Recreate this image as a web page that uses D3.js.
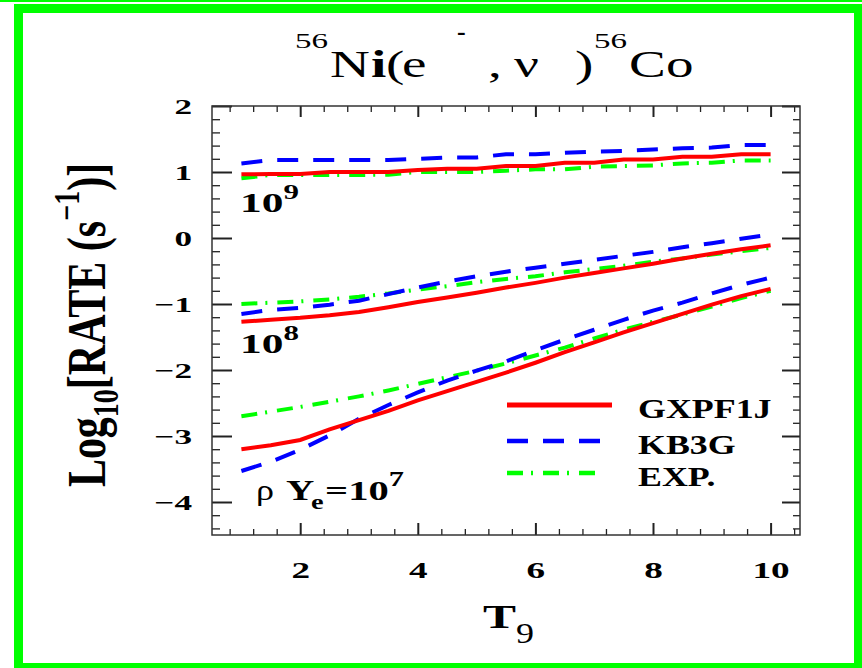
<!DOCTYPE html>
<html><head><meta charset="utf-8">
<script src="https://cdn.jsdelivr.net/npm/d3@7"></script>
<style>
body{margin:0;background:#fff;}
svg{display:block;}
</style>
</head><body>
<svg id="c" width="862" height="668"></svg>
<script>
// ---- data (log10 rate vs T9) ----
const T9 = [1.0,1.5,2.0,2.5,3.0,3.5,4.0,4.5,5.0,5.5,6.0,6.5,7.0,7.5,8.0,8.5,9.0,9.5,10.0];

const GXPF1J_1e9 = [0.965,0.97,0.97,1.00,1.00,1.00,1.03,1.05,1.05,1.09,1.09,1.14,1.14,1.19,1.19,1.23,1.23,1.27,1.27];
const KB3G_1e9   = [1.13,1.18,1.18,1.18,1.18,1.18,1.20,1.22,1.22,1.27,1.27,1.29,1.31,1.32,1.34,1.36,1.37,1.41,1.41];
const EXP_1e9    = [0.905,0.955,0.955,0.955,0.955,0.96,1.00,1.00,1.00,1.02,1.04,1.04,1.08,1.09,1.10,1.13,1.14,1.175,1.175];

const GXPF1J_1e8 = [-1.27,-1.24,-1.21,-1.17,-1.12,-1.05,-0.97,-0.90,-0.83,-0.75,-0.68,-0.60,-0.53,-0.46,-0.39,-0.31,-0.24,-0.17,-0.11];
const KB3G_1e8   = [-1.15,-1.09,-1.06,-1.01,-0.95,-0.85,-0.75,-0.66,-0.58,-0.51,-0.45,-0.39,-0.33,-0.27,-0.21,-0.14,-0.08,-0.01,0.05];
const EXP_1e8    = [-1.00,-0.98,-0.96,-0.93,-0.89,-0.84,-0.78,-0.73,-0.67,-0.62,-0.58,-0.52,-0.47,-0.42,-0.36,-0.31,-0.25,-0.20,-0.15];

const GXPF1J_1e7 = [-3.20,-3.14,-3.06,-2.90,-2.76,-2.62,-2.46,-2.32,-2.18,-2.04,-1.89,-1.73,-1.58,-1.43,-1.29,-1.15,-1.01,-0.88,-0.77];
const KB3G_1e7   = [-3.53,-3.39,-3.21,-2.99,-2.74,-2.53,-2.34,-2.16,-2.01,-1.87,-1.70,-1.54,-1.39,-1.24,-1.10,-0.98,-0.84,-0.71,-0.60];
const EXP_1e7    = [-2.70,-2.63,-2.56,-2.48,-2.40,-2.31,-2.21,-2.11,-2.01,-1.90,-1.78,-1.66,-1.52,-1.39,-1.27,-1.16,-1.04,-0.91,-0.80];

const xTicks = [2,4,6,8,10];
const yTicks = [2,1,0,-1,-2,-3,-4];
const xMinor = [0.8,1.2,1.6,2.4,2.8,3.2,3.6,4.4,4.8,5.2,5.6,6.4,6.8,7.2,7.6,8.4,8.8,9.2,9.6,10.4];
const yMinor = d3.range(-4.4, 2.0, 0.2).map(v => +v.toFixed(1)).filter(v => Math.abs(v - Math.round(v)) > 0.01);
const legendNames = ["GXPF1J","KB3G","EXP."];

// ---- styles ----
const RED = "#ff0000", BLUE = "#0000ff", GREEN = "#00ff00";
const SERIF = '"Liberation Serif"';
const styles = {
  GXPF1J: {color: RED, dash: null, w: 4},
  KB3G:   {color: BLUE, dash: "21,15", w: 4},
  EXP:    {color: GREEN, dash: "16,8,2,10", w: 4}
};

const svg = d3.select("#c");

// green border
svg.append("rect").attr("x",0).attr("y",0).attr("width",862).attr("height",2).attr("fill",GREEN);
svg.append("rect").attr("x",18.5).attr("y",8.5).attr("width",840).attr("height",659)
  .attr("fill","none").attr("stroke",GREEN).attr("stroke-width",9);

const L = 212, R = 800, TOP = 106, BOT = 535;
const x = d3.scaleLinear().domain([0.5,10.5]).range([L,R]);
const y = d3.scaleLinear().domain([-4.5,2]).range([BOT,TOP]);

function styleAxis(g, w){
  g.attr("font-family", SERIF);
  g.select(".domain").remove();
  g.selectAll(".tick line").attr("stroke","#222").attr("stroke-width",w);
}
// bottom
svg.append("g").attr("transform",`translate(0,${BOT})`)
  .call(d3.axisBottom(x).tickValues(xMinor).tickSize(-6).tickFormat(""))
  .call(g=>styleAxis(g,1.3));
const xb = svg.append("g").attr("transform",`translate(0,${BOT})`)
  .call(d3.axisBottom(x).tickValues(xTicks).tickSizeInner(-12).tickSizeOuter(0).tickPadding(26).tickFormat(d3.format("d")))
  .call(g=>styleAxis(g,2));
xb.selectAll(".tick text").attr("font-family",SERIF).attr("font-size",24).attr("font-weight","bold")
  .attr("fill","#000").attr("dy",null).attr("y",43).attr("transform","scale(1.55,1)");
// top
svg.append("g").attr("transform",`translate(0,${TOP})`)
  .call(d3.axisTop(x).tickValues(xMinor).tickSize(-6).tickFormat(""))
  .call(g=>styleAxis(g,1.3));
svg.append("g").attr("transform",`translate(0,${TOP})`)
  .call(d3.axisTop(x).tickValues(xTicks).tickSize(-11).tickFormat(""))
  .call(g=>styleAxis(g,2));
// left
svg.append("g").attr("transform",`translate(${L},0)`)
  .call(d3.axisLeft(y).tickValues(yMinor).tickSize(-8).tickFormat(""))
  .call(g=>styleAxis(g,1.3));
const yl = svg.append("g").attr("transform",`translate(${L},0)`)
  .call(d3.axisLeft(y).tickValues(yTicks).tickSizeInner(-20).tickSizeOuter(0).tickFormat(d => d < 0 ? "\u2212" + Math.abs(d) : d))
  .call(g=>styleAxis(g,2));
yl.selectAll(".tick text").attr("font-family",SERIF).attr("font-size",22).attr("font-weight","bold")
  .attr("fill","#000").attr("x",0).attr("dy","0.34em").attr("text-anchor","end")
  .attr("transform","translate(-20,0) scale(1.6,1)");
// right
svg.append("g").attr("transform",`translate(${R},0)`)
  .call(d3.axisRight(y).tickValues(yMinor).tickSize(-7).tickFormat(""))
  .call(g=>styleAxis(g,1.3));
svg.append("g").attr("transform",`translate(${R},0)`)
  .call(d3.axisRight(y).tickValues(yTicks).tickSize(-18).tickFormat(""))
  .call(g=>styleAxis(g,2));

// frame
svg.append("rect").attr("x",L).attr("y",TOP).attr("width",R-L).attr("height",BOT-TOP)
  .attr("fill","none").attr("stroke","#333").attr("stroke-width",1.5);

// series
const line = d3.line().x(d=>x(d[0])).y(d=>y(d[1]));
const series = [
  ["EXP", EXP_1e9], ["KB3G", KB3G_1e9], ["GXPF1J", GXPF1J_1e9],
  ["EXP", EXP_1e8], ["KB3G", KB3G_1e8], ["GXPF1J", GXPF1J_1e8],
  ["EXP", EXP_1e7], ["KB3G", KB3G_1e7], ["GXPF1J", GXPF1J_1e7]
];
series.forEach(([name, vals]) => {
  const s = styles[name];
  svg.append("path").datum(T9.map((t,i)=>[t, vals[i]]))
    .attr("d", line).attr("fill","none").attr("stroke", s.color)
    .attr("stroke-width", s.w).attr("stroke-dasharray", s.dash);
});

// text helper with horizontal stretch
function txt(px, py, s, size, weight, sx, anchor){
  const g = svg.append("g").attr("transform",`translate(${px},${py}) scale(${sx},1)`);
  const t = g.append("text").attr("font-family",SERIF).attr("font-size",size).attr("font-weight",weight||"normal")
    .attr("fill","#000").attr("text-anchor",anchor||"start").text(s);
  return t;
}

// title
txt(295,48,"56",22,"normal",1.5);
txt(330,77,"N",38,"normal",1.45);
txt(371,77,"i",38,"bold",1.45);
txt(386,77,"(",38,"normal",1.45);
txt(402,77,"e",38,"normal",1.45);
txt(457,40,"-",26,"bold",1.0);
txt(488,77,",",38,"normal",1.45);
txt(514,77,"\u03bd",38,"normal",1.45);
txt(575,77,")",38,"normal",1.45);
txt(594,48,"56",22,"normal",1.5);
txt(629,77,"C",38,"normal",1.45);
txt(666,77,"o",38,"normal",1.45);

// y-axis label
{
  const g = svg.append("g").attr("transform","translate(105,325) scale(1.3,1) rotate(-90)");
  const t = g.append("text").attr("font-family",SERIF).attr("font-size",42).attr("font-weight","bold")
    .attr("fill","#000").attr("text-anchor","middle");
  t.append("tspan").text("Log");
  t.append("tspan").attr("font-size",28).attr("dy",10).text("10");
  t.append("tspan").attr("dy",-10).text("[RATE (s");
  t.append("tspan").attr("font-size",28).attr("dy",-20).text("\u22121");
  t.append("tspan").attr("dy",20).text(")]");
}

// x-axis label
txt(483,628,"T",33,"bold",1.5);
txt(516,643,"9",30,"normal",1.2);

// density annotations
{
  let t = txt(240,212,"10",28,"bold",1.55);
  t.append("tspan").attr("font-size",20).attr("dy",-13).text("9");
  t = txt(240,353,"10",28,"bold",1.55);
  t.append("tspan").attr("font-size",20).attr("dy",-13).text("8");
  txt(256,500,"\u03c1",30,"normal",1.2);
  txt(286,500,"Y",29,"bold",1.35);
  txt(311,509,"e",21,"bold",1.35);
  t = txt(325,500,"=10",28,"bold",1.45);
  t.append("tspan").attr("font-size",21).attr("dy",-14).text("7");
}

// legend
const legY = [405, 441, 473];
const legKeys = ["GXPF1J","KB3G","EXP"];
legKeys.forEach((k,i) => {
  const s = styles[k];
  svg.append("line").attr("x1",507).attr("x2", i===0 ? 612 : 600)
    .attr("y1",legY[i]).attr("y2",legY[i])
    .attr("stroke",s.color).attr("stroke-width", i===0 ? 5 : 4.5)
    .attr("stroke-dasharray", s.dash);
  txt(638, legY[i]+13, legendNames[i], 27, "bold", 1.33);
});
</script>
</body></html>
